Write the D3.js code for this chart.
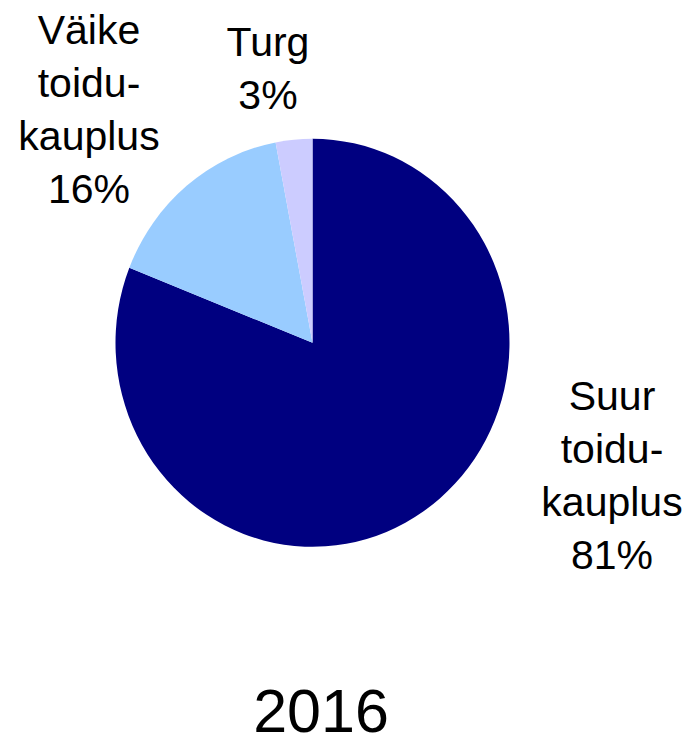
<!DOCTYPE html>
<html><head><meta charset="utf-8">
<script src="https://cdn.jsdelivr.net/npm/d3@7"></script>
<style>body{margin:0;background:#fff}svg{display:block}</style>
</head><body>
<script>
const categories = ["Suur toidukauplus", "Väike toidukauplus", "Turg"];
const values = [81, 16, 3];
const colors = ["#000080", "#99CCFF", "#CCCCFF"];
const labelLines = [["Suur", "toidu-", "kauplus", "81%"], ["Väike", "toidu-", "kauplus", "16%"], ["Turg", "3%"]];
const title = "2016";

const W = 689, H = 738;
const svg = d3.select("body").append("svg").attr("width", W).attr("height", H);

const cx = 312.5, cy = 342.8, r = 197, ry = 204;
const pie = d3.pie().sort(null).value(d => d)(values);
const arc = d3.arc().innerRadius(0).outerRadius(r);

svg.append("g").attr("transform", `translate(${cx},${cy}) scale(1,${ry / r})`)
  .selectAll("path").data(pie).join("path")
  .attr("d", arc).attr("fill", (d, i) => colors[i]);

const labelPos = [[612, 410], [89, 44], [268, 56]];
const lh = 53;
const font = "'Liberation Sans', Arial, sans-serif";
labelLines.forEach((lines, i) => {
  const t = svg.append("text").attr("text-anchor", "middle")
    .attr("font-family", font).attr("font-size", 41).attr("fill", "#000");
  lines.forEach((l, j) => {
    t.append("tspan").attr("x", labelPos[i][0]).attr("y", labelPos[i][1] + j * lh).text(l);
  });
});

svg.append("text").attr("x", 321).attr("y", 732).attr("text-anchor", "middle")
  .attr("font-family", font).attr("font-size", 61).attr("fill", "#000").text(title);
</script>
</body></html>
